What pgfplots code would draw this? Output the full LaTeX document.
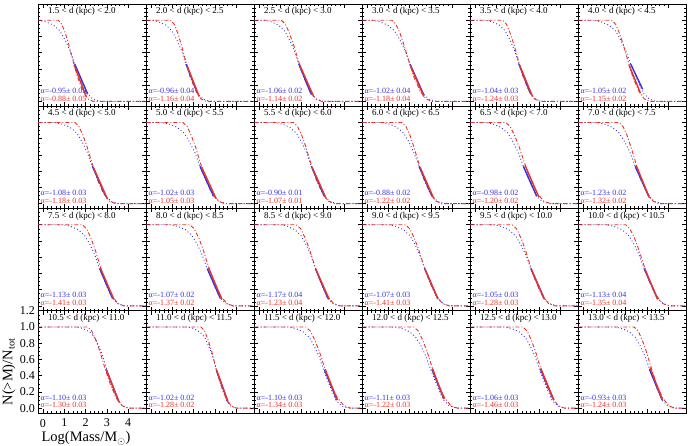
\documentclass[border=0pt]{standalone}
\usepackage{pgfplots}
\pgfplotsset{compat=1.18}
\usepackage{fontspec}
\setmainfont{Liberation Serif}
\definecolor{bluec}{RGB}{50,50,230}
\definecolor{redc}{RGB}{235,50,40}
\newcommand\titlefont{\fontsize{9}{10}\selectfont}
\newcommand\alphafont{\fontsize{8}{9}\selectfont}
\newcommand\labfont{\fontsize{14.5}{16}\selectfont}
\pgfplotsset{
 panel/.style={scale only axis, width=108pt, height=102.25pt, anchor=north west,
   xmin=-0.22, xmax=4.85, ymin=-0.06, ymax=1.2,
   xtick={0,1,2,3,4}, ytick={0,0.2,0.4,0.6,0.8,1.0,1.2},
   minor x tick num=4, minor y tick num=3,
   tick align=inside, xtick pos=both, ytick pos=both,
   major tick length=4pt, minor tick length=2pt,
   axis line style={line width=0.8pt, black},
   tick style={black, line width=0.5pt},
   no markers, clip=true},
 panelextra/.style={xticklabels={}, yticklabels={}},
 bl/.style={
   /pgf/number format/assume math mode=true,
   xticklabel style={font=\fontsize{12}{13}\selectfont, yshift=-2.5pt},
   yticklabel style={font=\fontsize{12}{13}\selectfont, /pgf/number format/.cd, fixed, fixed zerofill, precision=1}},
}
% #1 col, #2 row, #3 title, #4 red, #5 blue, #6 blue fit, #7 red fit, #8 blue alpha, #9 red alpha
\newcommand\panel[9]{%
\begin{axis}[panel, panelextra, at={({(38.3+108*#1)*1pt},{-(4+102.25*#2)*1pt})}]
\addplot[bluec, line width=0.9pt, dash pattern=on 0.9pt off 2.4pt] coordinates {(-0.22,1) #5 (4.85,0)};
\addplot[redc, line width=0.9pt, dash pattern=on 4pt off 2pt on 1pt off 2pt] coordinates {(-0.22,1) #4 (4.85,0)};
\addplot[bluec, line width=1.4pt] coordinates {#6};
\addplot[redc, line width=1.4pt] coordinates {#7};
\node[anchor=base west, font=\titlefont, inner sep=0pt] at (axis description cs:0.09,0.905) {#3};
\node[anchor=base west, text=bluec, font=\alphafont, inner sep=0pt] at (axis description cs:0.02,0.125) {α=#8};
\node[anchor=base west, text=redc, font=\alphafont, inner sep=0pt] at (axis description cs:0.02,0.05) {α=#9};
\end{axis}}
\begin{document}
\begin{tikzpicture}
\path[use as bounding box] (0,0) rectangle (694pt,-446pt);
% row 0
\panel{0}{0}{1.5 < d (kpc) < 2.0}
 {(0.72,1)(0.88,0.95)(1.05,0.84)(1.21,0.70)(1.41,0.50)(1.62,0.30)(1.87,0.13)(2.11,0.03)(2.36,0)}
 {(-0.20,1)(0.14,0.98)(0.49,0.94)(0.79,0.87)(1.03,0.76)(1.26,0.63)(1.49,0.46)(1.81,0.25)(2.07,0.10)(2.35,0.025)(2.67,0)}
 {(1.49,0.46)(2.10,0.09)}{(1.46,0.45)(2.03,0.06)}{-0.95± 0.05}{-0.88± 0.05}
\panel{1}{0}{2.0 < d (kpc) < 2.5}
 {(0.92,1)(1.09,0.95)(1.26,0.84)(1.42,0.70)(1.63,0.50)(1.84,0.30)(2.10,0.13)(2.35,0.03)(2.60,0)}
 {(0.05,1)(0.37,0.98)(0.70,0.94)(0.98,0.87)(1.21,0.76)(1.43,0.63)(1.64,0.46)(1.94,0.25)(2.18,0.10)(2.45,0.025)(2.75,0)}
 {(1.64,0.46)(2.21,0.09)}{(1.68,0.45)(2.26,0.06)}{-0.96± 0.04}{-1.16± 0.04}
\panel{2}{0}{2.5 < d (kpc) < 3.0}
 {(1.05,1)(1.24,0.95)(1.43,0.84)(1.62,0.70)(1.85,0.50)(2.10,0.30)(2.38,0.13)(2.67,0.03)(2.95,0)}
 {(0.25,1)(0.58,0.98)(0.91,0.94)(1.20,0.87)(1.43,0.76)(1.65,0.63)(1.87,0.46)(2.18,0.25)(2.42,0.10)(2.70,0.025)(3.00,0)}
 {(1.87,0.46)(2.45,0.09)}{(1.91,0.45)(2.57,0.06)}{-1.06± 0.02}{-1.14± 0.02}
\panel{3}{0}{3.0 < d (kpc) < 3.5}
 {(1.17,1)(1.36,0.95)(1.55,0.84)(1.73,0.70)(1.96,0.50)(2.20,0.30)(2.49,0.13)(2.77,0.03)(3.05,0)}
 {(0.25,1)(0.61,0.98)(0.97,0.94)(1.29,0.87)(1.54,0.76)(1.78,0.63)(2.02,0.46)(2.35,0.25)(2.62,0.10)(2.92,0.025)(3.25,0)}
 {(2.02,0.46)(2.65,0.09)}{(2.02,0.45)(2.67,0.06)}{-1.02± 0.04}{-1.18± 0.04}
\panel{4}{0}{3.5 < d (kpc) < 4.0}
 {(1.30,1)(1.48,0.95)(1.65,0.84)(1.83,0.70)(2.04,0.50)(2.26,0.30)(2.53,0.13)(2.79,0.03)(3.05,0)}
 {(0.50,1)(0.82,0.98)(1.14,0.94)(1.41,0.87)(1.64,0.76)(1.85,0.63)(2.06,0.46)(2.36,0.25)(2.59,0.10)(2.86,0.025)(3.15,0)}
 {(2.06,0.46)(2.62,0.09)}{(2.09,0.45)(2.70,0.06)}{-1.04± 0.03}{-1.24± 0.03}
\panel{5}{0}{4.0 < d (kpc) < 4.5}
 {(1.35,1)(1.53,0.95)(1.71,0.84)(1.89,0.70)(2.11,0.50)(2.34,0.30)(2.61,0.13)(2.88,0.03)(3.15,0)}
 {(0.50,1)(0.85,0.98)(1.21,0.94)(1.52,0.87)(1.77,0.76)(2.00,0.63)(2.24,0.46)(2.57,0.25)(2.83,0.10)(3.13,0.025)(3.45,0)}
 {(2.24,0.46)(2.80,0.15)}{(2.16,0.45)(2.70,0.10)}{-1.05± 0.02}{-1.15± 0.02}
% row 1
\panel{0}{1}{4.5 < d (kpc) < 5.0}
 {(1.50,1)(1.69,0.95)(1.88,0.84)(2.07,0.70)(2.30,0.50)(2.55,0.30)(2.83,0.13)(3.12,0.03)(3.40,0)}
 {(0.55,1)(0.91,0.98)(1.27,0.94)(1.59,0.87)(1.84,0.76)(2.08,0.63)(2.32,0.46)(2.65,0.25)(2.92,0.10)(3.22,0.025)(3.55,0)}
 {(2.32,0.46)(2.95,0.09)}{(2.36,0.45)(3.02,0.06)}{-1.08± 0.03}{-1.18± 0.03}
\panel{1}{1}{5.0 < d (kpc) < 5.5}
 {(1.50,1)(1.70,0.95)(1.89,0.84)(2.09,0.70)(2.32,0.50)(2.57,0.30)(2.87,0.13)(3.16,0.03)(3.45,0)}
 {(0.50,1)(0.87,0.98)(1.23,0.94)(1.55,0.87)(1.81,0.76)(2.06,0.63)(2.30,0.46)(2.64,0.25)(2.91,0.10)(3.21,0.025)(3.55,0)}
 {(2.30,0.46)(2.94,0.09)}{(2.38,0.45)(3.06,0.06)}{-1.02± 0.03}{-1.05± 0.03}
\panel{2}{1}{5.5 < d (kpc) < 6.0}
 {(1.62,1)(1.81,0.95)(2.01,0.84)(2.20,0.70)(2.43,0.50)(2.68,0.30)(2.97,0.13)(3.26,0.03)(3.55,0)}
 {(0.75,1)(1.10,0.98)(1.45,0.94)(1.75,0.87)(2.00,0.76)(2.23,0.63)(2.46,0.46)(2.78,0.25)(3.04,0.10)(3.33,0.025)(3.65,0)}
 {(2.46,0.46)(3.07,0.09)}{(2.49,0.45)(3.16,0.06)}{-0.90± 0.01}{-1.07± 0.01}
\panel{3}{1}{6.0 < d (kpc) < 6.5}
 {(1.64,1)(1.83,0.95)(2.02,0.84)(2.20,0.70)(2.43,0.50)(2.67,0.30)(2.96,0.13)(3.24,0.03)(3.52,0)}
 {(0.70,1)(1.05,0.98)(1.41,0.94)(1.72,0.87)(1.97,0.76)(2.20,0.63)(2.44,0.46)(2.77,0.25)(3.03,0.10)(3.33,0.025)(3.65,0)}
 {(2.44,0.46)(3.06,0.09)}{(2.49,0.45)(3.14,0.06)}{-0.88± 0.02}{-1.22± 0.02}
\panel{4}{1}{6.5 < d (kpc) < 7.0}
 {(1.44,1)(1.65,0.95)(1.86,0.84)(2.07,0.70)(2.33,0.50)(2.60,0.30)(2.92,0.13)(3.23,0.03)(3.55,0)}
 {(0.50,1)(0.86,0.98)(1.22,0.94)(1.54,0.87)(1.79,0.76)(2.03,0.63)(2.27,0.46)(2.60,0.25)(2.87,0.10)(3.17,0.025)(3.50,0)}
 {(2.27,0.46)(2.90,0.09)}{(2.35,0.47)(3.00,0.08)}{-0.98± 0.02}{-1.20± 0.02}
\panel{5}{1}{7.0 < d (kpc) < 7.5}
 {(1.69,1)(1.88,0.95)(2.07,0.84)(2.25,0.70)(2.48,0.50)(2.72,0.30)(3.01,0.13)(3.29,0.03)(3.57,0)}
 {(0.65,1)(1.02,0.98)(1.38,0.94)(1.70,0.87)(1.96,0.76)(2.21,0.63)(2.45,0.46)(2.79,0.25)(3.06,0.10)(3.36,0.025)(3.70,0)}
 {(2.45,0.46)(3.09,0.09)}{(2.50,0.47)(3.12,0.07)}{-1.23± 0.02}{-1.32± 0.02}
% row 2
\panel{0}{2}{7.5 < d (kpc) < 8.0}
 {(1.85,1)(2.05,0.95)(2.24,0.84)(2.44,0.70)(2.67,0.50)(2.92,0.30)(3.22,0.13)(3.51,0.03)(3.80,0)}
 {(0.95,1)(1.30,0.98)(1.65,0.94)(1.95,0.87)(2.20,0.76)(2.43,0.63)(2.66,0.46)(2.98,0.25)(3.24,0.10)(3.53,0.025)(3.85,0)}
 {(2.66,0.46)(3.27,0.09)}{(2.69,0.47)(3.33,0.08)}{-1.13± 0.03}{-1.41± 0.03}
\panel{1}{2}{8.0 < d (kpc) < 8.5}
 {(1.83,1)(2.03,0.95)(2.24,0.84)(2.44,0.70)(2.68,0.50)(2.95,0.30)(3.25,0.13)(3.56,0.03)(3.86,0)}
 {(0.90,1)(1.25,0.98)(1.61,0.94)(1.92,0.87)(2.17,0.76)(2.40,0.63)(2.64,0.46)(2.97,0.25)(3.23,0.10)(3.53,0.025)(3.85,0)}
 {(2.64,0.46)(3.26,0.09)}{(2.70,0.47)(3.33,0.08)}{-1.07± 0.02}{-1.37± 0.02}
\panel{2}{2}{8.5 < d (kpc) < 9.0}
 {(1.75,1)(1.96,0.95)(2.16,0.84)(2.37,0.70)(2.61,0.50)(2.88,0.30)(3.19,0.13)(3.49,0.03)(3.80,0)}
 {(1.00,1)(1.34,0.98)(1.67,0.94)(1.97,0.87)(2.20,0.76)(2.43,0.63)(2.65,0.46)(2.96,0.25)(3.21,0.10)(3.49,0.025)(3.80,0)}
 {(2.65,0.46)(3.24,0.09)}{(2.67,0.45)(3.30,0.08)}{-1.17± 0.04}{-1.23± 0.04}
\panel{3}{2}{9.0 < d (kpc) < 9.5}
 {(1.80,1)(2.01,0.95)(2.21,0.84)(2.42,0.70)(2.66,0.50)(2.93,0.30)(3.24,0.13)(3.54,0.03)(3.85,0)}
 {(1.00,1)(1.35,0.98)(1.70,0.94)(2.00,0.87)(2.25,0.76)(2.48,0.63)(2.71,0.46)(3.03,0.25)(3.29,0.10)(3.58,0.025)(3.90,0)}
 {(2.71,0.46)(3.32,0.09)}{(2.72,0.45)(3.34,0.08)}{-1.07± 0.03}{-1.41± 0.03}
\panel{4}{2}{9.5 < d (kpc) < 10.0}
 {(1.75,1)(1.95,0.95)(2.15,0.84)(2.35,0.70)(2.59,0.50)(2.85,0.30)(3.15,0.13)(3.45,0.03)(3.75,0)}
 {(0.85,1)(1.21,0.98)(1.57,0.94)(1.89,0.87)(2.14,0.76)(2.38,0.63)(2.62,0.46)(2.95,0.25)(3.22,0.10)(3.52,0.025)(3.85,0)}
 {(2.62,0.46)(3.25,0.09)}{(2.65,0.45)(3.26,0.08)}{-1.05± 0.03}{-1.28± 0.03}
\panel{5}{2}{10.0 < d (kpc) < 10.5}
 {(2.00,1)(2.20,0.95)(2.41,0.84)(2.61,0.70)(2.86,0.50)(3.12,0.30)(3.43,0.13)(3.73,0.03)(4.04,0)}
 {(1.10,1)(1.46,0.98)(1.82,0.94)(2.14,0.87)(2.39,0.76)(2.63,0.63)(2.87,0.46)(3.20,0.25)(3.47,0.10)(3.77,0.025)(4.10,0)}
 {(2.87,0.46)(3.50,0.09)}{(2.90,0.46)(3.50,0.08)}{-1.13± 0.04}{-1.35± 0.04}
% row 3
\panel{1}{3}{11.0 < d (kpc) < 11.5}
 {(2.35,1)(2.52,0.95)(2.68,0.84)(2.85,0.70)(3.04,0.50)(3.26,0.30)(3.51,0.13)(3.75,0.03)(4.00,0)}
 {(1.75,1)(2.02,0.98)(2.29,0.94)(2.53,0.87)(2.72,0.76)(2.90,0.63)(3.08,0.46)(3.33,0.25)(3.53,0.10)(3.75,0.025)(4.00,0)}
 {(3.08,0.46)(3.60,0.09)}{(3.08,0.47)(3.62,0.07)}{-1.02± 0.02}{-1.28± 0.02}
\panel{2}{3}{11.5 < d (kpc) < 12.0}
 {(2.20,1)(2.41,0.95)(2.62,0.84)(2.83,0.70)(3.08,0.50)(3.36,0.30)(3.67,0.13)(3.99,0.03)(4.30,0)}
 {(1.40,1)(1.74,0.98)(2.07,0.94)(2.37,0.87)(2.60,0.76)(2.83,0.63)(3.05,0.46)(3.36,0.25)(3.61,0.10)(3.89,0.025)(4.20,0)}
 {(3.08,0.47)(3.66,0.10)}{(3.10,0.48)(3.68,0.10)}{-1.10± 0.03}{-1.34± 0.03}
\panel{3}{3}{12.0 < d (kpc) < 12.5}
 {(2.20,1)(2.41,0.95)(2.61,0.84)(2.82,0.70)(3.06,0.50)(3.33,0.30)(3.64,0.13)(3.94,0.03)(4.25,0)}
 {(1.30,1)(1.65,0.98)(2.00,0.94)(2.30,0.87)(2.55,0.76)(2.78,0.63)(3.01,0.46)(3.33,0.25)(3.59,0.10)(3.88,0.025)(4.20,0)}
 {(3.05,0.48)(3.60,0.12)}{(3.07,0.49)(3.62,0.11)}{-1.11± 0.03}{-1.22± 0.03}
\panel{4}{3}{12.5 < d (kpc) < 13.0}
 {(2.25,1)(2.45,0.95)(2.64,0.84)(2.84,0.70)(3.07,0.50)(3.32,0.30)(3.62,0.13)(3.91,0.03)(4.20,0)}
 {(1.40,1)(1.74,0.98)(2.07,0.94)(2.37,0.87)(2.60,0.76)(2.83,0.63)(3.05,0.46)(3.36,0.25)(3.61,0.10)(3.89,0.025)(4.20,0)}
 {(3.07,0.48)(3.70,0.10)}{(3.09,0.49)(3.70,0.10)}{-1.06± 0.03}{-1.46± 0.03}
\panel{5}{3}{13.0 < d (kpc) < 13.5}
 {(2.40,1)(2.59,0.95)(2.78,0.84)(2.97,0.70)(3.20,0.50)(3.45,0.30)(3.73,0.13)(4.02,0.03)(4.30,0)}
 {(1.50,1)(1.84,0.98)(2.17,0.94)(2.47,0.87)(2.70,0.76)(2.93,0.63)(3.15,0.46)(3.46,0.25)(3.71,0.10)(3.99,0.025)(4.30,0)}
 {(3.12,0.48)(3.72,0.10)}{(3.15,0.50)(3.73,0.10)}{-0.93± 0.03}{-1.24± 0.03}
\pgfplotsset{panelextra/.style={bl}}
\panel{0}{3}{10.5 < d (kpc) < 11.0}
 {(2.10,1)(2.29,0.95)(2.48,0.84)(2.67,0.70)(2.90,0.50)(3.15,0.30)(3.43,0.13)(3.72,0.03)(4.00,0)}
 {(1.60,1)(1.89,0.98)(2.18,0.94)(2.43,0.87)(2.63,0.76)(2.82,0.63)(3.02,0.46)(3.28,0.25)(3.50,0.10)(3.74,0.025)(4.00,0)}
 {(2.98,0.47)(3.56,0.08)}{(2.96,0.48)(3.58,0.07)}{-1.10± 0.03}{-1.30± 0.03}
\node[rotate=90, font=\labfont] at (9pt,-372pt) {N(>M)/N\textsubscript{tot}};
\node[font=\labfont, anchor=base, inner sep=0pt] at (86pt,-442pt) {Log(Mass/M$_\odot$)};
\end{tikzpicture}
\end{document}
